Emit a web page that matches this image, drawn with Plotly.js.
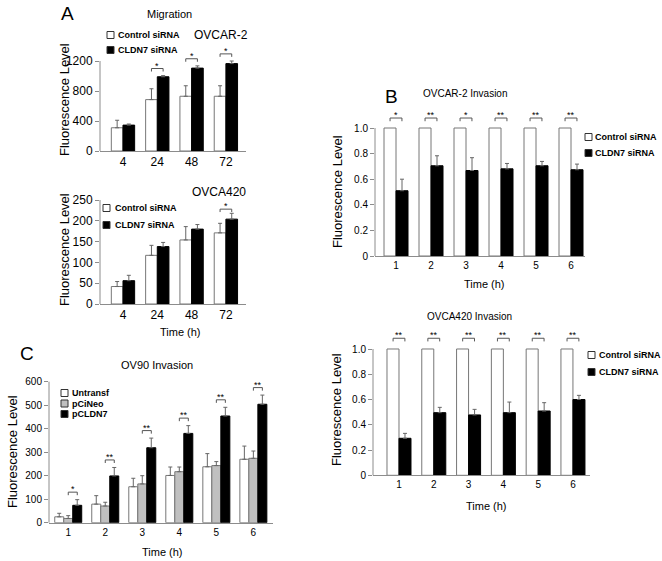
<!DOCTYPE html>
<html><head><meta charset="utf-8">
<script src="https://cdn.plot.ly/plotly-3.0.1.min.js"></script>
<style>html,body{margin:0;padding:0;background:#fff}#chart{width:662px;height:561px}</style>
</head><body><div id="chart"></div>
<script>
// ---------- Panel A : Migration ----------
const timesA = ['4', '24', '48', '72'];
const migOvcar2Ctl = [310, 685, 730, 730];
const migOvcar2CtlErr = [100, 145, 140, 140];
const migOvcar2Cldn7 = [345, 990, 1105, 1165];
const migOvcar2Cldn7Err = [15, 15, 30, 35];
const migOvcar2Sig = ['', '*', '*', '*'];

const migOvca420Ctl = [42, 117, 154, 171];
const migOvca420CtlErr = [12, 24, 32, 23];
const migOvca420Cldn7 = [56, 138, 180, 204];
const migOvca420Cldn7Err = [13, 10, 11, 14];
const migOvca420Sig = ['', '', '', '*'];

// ---------- Panel B : Invasion (siRNA) ----------
const timesB = ['1', '2', '3', '4', '5', '6'];
const invOvcar2Ctl = [1, 1, 1, 1, 1, 1];
const invOvcar2Cldn7 = [0.51, 0.705, 0.668, 0.681, 0.705, 0.674];
const invOvcar2Cldn7Err = [0.09, 0.078, 0.10, 0.042, 0.034, 0.044];
const invOvcar2Sig = ['*', '**', '*', '**', '**', '**'];

const invOvca420Ctl = [1, 1, 1, 1, 1, 1];
const invOvca420Cldn7 = [0.293, 0.496, 0.478, 0.496, 0.509, 0.60];
const invOvca420Cldn7Err = [0.039, 0.042, 0.044, 0.084, 0.066, 0.033];
const invOvca420Sig = ['**', '**', '**', '**', '**', '**'];

// ---------- Panel C : OV90 Invasion ----------
const timesC = ['1', '2', '3', '4', '5', '6'];
const ov90Untransf = [25, 79, 153, 201, 238, 270];
const ov90UntransfErr = [15, 36, 36, 36, 56, 56];
const ov90PCiNeo = [18, 71, 165, 217, 243, 274];
const ov90PCiNeoErr = [12, 16, 35, 20, 17, 31];
const ov90PCLDN7 = [74, 199, 319, 380, 454, 504];
const ov90PCLDN7Err = [24, 36, 41, 33, 37, 39];
const ov90Sig = ['*', '**', '**', '**', '**', '**'];

const seriesSi = ['Control siRNA', 'CLDN7 siRNA'];
const seriesC = ['Untransf', 'pCiNeo', 'pCLDN7'];

// ---------- helpers ----------
const W = 662, H = 561;
const px = x => x / W, py = y => 1 - y / H;
const FONT = 'Arial, "Liberation Sans", Helvetica, sans-serif';
const WHITE = '#ffffff', BLACK = '#000000', GREY = '#c0c0c0';
const AXIS = '#8c8c8c';
const traces = [], annotations = [], shapes = [];

function addBars(xa, ya, x0, vals, errs, fill, lineColor, offset, width, name) {
  const t = {
    type: 'bar', name: name, x: vals.map((_, i) => i + x0), y: vals, xaxis: xa, yaxis: ya,
    offset: offset, width: width, showlegend: false, hoverinfo: 'skip',
    marker: {color: fill, line: {color: lineColor, width: 1}}
  };
  if (errs) t.error_y = {type: 'data', symmetric: false, array: errs, arrayminus: errs.map(() => 0),
                         color: '#666', thickness: 1, width: 2};
  traces.push(t);
}
function tops(v, e) { return v.map((d, i) => d + (e ? e[i] : 0)); }
function addBrackets(xa, ya, x0, offL, offR, topL, topR, sig, gap, drop) {
  const xs = [], ys = [];
  sig.forEach((s, i) => {
    if (!s) return;
    const yb = Math.max(topL[i], topR[i]) + gap;
    const xl = i + x0 + offL, xr = i + x0 + offR;
    xs.push(xl, xl, xr, xr, null); ys.push(yb - drop, yb, yb, yb - drop, null);
    annotations.push({xref: xa, yref: ya, x: (xl + xr) / 2, y: yb, text: s, showarrow: false,
      xanchor: 'center', yanchor: 'middle', yshift: 3, font: {size: 9, family: FONT, color: '#000'}});
  });
  traces.push({type: 'scatter', mode: 'lines', x: xs, y: ys, xaxis: xa, yaxis: ya, cliponaxis: false,
    line: {color: '#555', width: 1}, showlegend: false, hoverinfo: 'skip'});
}
function label(text, x, y, size, extra) {
  annotations.push(Object.assign({xref: 'paper', yref: 'paper', x: px(x), y: py(y), text: text,
    showarrow: false, xanchor: 'center', yanchor: 'middle', font: {size: size, family: FONT, color: '#000'}}, extra || {}));
}
function legendBlock(names, fills, boxLeft, yFirst, step, textLeft) {
  const s = 7;
  names.forEach((n, i) => {
    const yc = yFirst + i * step;
    shapes.push({type: 'rect', xref: 'paper', yref: 'paper', x0: px(boxLeft), x1: px(boxLeft + s),
      y0: py(yc + s / 2), y1: py(yc - s / 2), fillcolor: fills[i], line: {color: '#333', width: 1}});
    label('<b>' + n + '</b>', textLeft, yc, 9, {xanchor: 'left', borderpad: 0});
  });
}
function xAxis(l, r, range, x0, labels, anchor, fs) {
  return {domain: [px(l), px(r)], range: range, anchor: anchor, tickvals: labels.map((_, i) => i + x0),
    ticktext: labels, showline: true, linecolor: AXIS, linewidth: 1, ticks: '', showgrid: false,
    zeroline: false, tickfont: {size: fs, family: FONT, color: '#000'}, fixedrange: true};
}
// y axis: bottom pixel, pixels per unit, last tick value (axis line stops there), headroom max of range
function yAxis(leftPx, bottom, ppu, vals, texts, rangeMax, anchor, fs) {
  const lineTop = bottom - vals[vals.length - 1] * ppu;
  // visible axis line stops at the top tick, like the original figure
  shapes.push({type: 'line', xref: 'paper', yref: 'paper', x0: px(leftPx), x1: px(leftPx),
    y0: py(bottom), y1: py(lineTop), line: {color: AXIS, width: 1}});
  return {domain: [py(bottom), py(bottom - rangeMax * ppu)], range: [0, rangeMax], anchor: anchor,
    tickvals: vals, ticktext: texts, showline: false, ticks: 'outside', ticklen: 4, tickcolor: AXIS,
    showgrid: false, zeroline: false, tickfont: {size: fs, family: FONT, color: '#000'}, fixedrange: true};
}

// ---------- Panel A top ----------
addBars('x', 'y', 0, migOvcar2Ctl, migOvcar2CtlErr, WHITE, '#777', -0.34, 0.34, seriesSi[0]);
addBars('x', 'y', 0, migOvcar2Cldn7, migOvcar2Cldn7Err, BLACK, BLACK, 0, 0.34, seriesSi[1]);
addBrackets('x', 'y', 0, -0.17, 0.17, tops(migOvcar2Ctl, migOvcar2CtlErr), tops(migOvcar2Cldn7, migOvcar2Cldn7Err), migOvcar2Sig, 95, 40);
// ---------- Panel A bottom ----------
addBars('x2', 'y2', 0, migOvca420Ctl, migOvca420CtlErr, WHITE, '#777', -0.34, 0.34, seriesSi[0]);
addBars('x2', 'y2', 0, migOvca420Cldn7, migOvca420Cldn7Err, BLACK, BLACK, 0, 0.34, seriesSi[1]);
addBrackets('x2', 'y2', 0, -0.17, 0.17, tops(migOvca420Ctl, migOvca420CtlErr), tops(migOvca420Cldn7, migOvca420Cldn7Err), migOvca420Sig, 10, 7);
// ---------- Panel B top ----------
addBars('x3', 'y3', 1, invOvcar2Ctl, null, WHITE, '#777', -0.343, 0.343, seriesSi[0]);
addBars('x3', 'y3', 1, invOvcar2Cldn7, invOvcar2Cldn7Err, BLACK, BLACK, 0, 0.343, seriesSi[1]);
addBrackets('x3', 'y3', 1, -0.17, 0.17, tops(invOvcar2Ctl), tops(invOvcar2Cldn7, invOvcar2Cldn7Err), invOvcar2Sig, 0.078, 0.025);
// ---------- Panel B bottom ----------
addBars('x4', 'y4', 1, invOvca420Ctl, null, WHITE, '#777', -0.345, 0.345, seriesSi[0]);
addBars('x4', 'y4', 1, invOvca420Cldn7, invOvca420Cldn7Err, BLACK, BLACK, 0, 0.345, seriesSi[1]);
addBrackets('x4', 'y4', 1, -0.17, 0.17, tops(invOvca420Ctl), tops(invOvca420Cldn7, invOvca420Cldn7Err), invOvca420Sig, 0.085, 0.025);
// ---------- Panel C ----------
addBars('x5', 'y5', 1, ov90Untransf, ov90UntransfErr, WHITE, '#777', -0.365, 0.243, seriesC[0]);
addBars('x5', 'y5', 1, ov90PCiNeo, ov90PCiNeoErr, GREY, '#777', -0.122, 0.243, seriesC[1]);
addBars('x5', 'y5', 1, ov90PCLDN7, ov90PCLDN7Err, BLACK, BLACK, 0.121, 0.243, seriesC[2]);
addBrackets('x5', 'y5', 1, 0, 0.243, tops(ov90PCiNeo, ov90PCiNeoErr), tops(ov90PCLDN7, ov90PCLDN7Err), ov90Sig, 32, 13);

// ---------- texts ----------
label('A', 67, 13, 19);
label('B', 391, 97, 19);
label('C', 27, 353, 19);
label('Migration', 169, 14, 11);
label('OVCAR-2', 221, 35, 12);
label('OVCA420', 219, 192, 12);
label('OVCAR-2 Invasion', 465, 93, 10);
label('OVCA420 Invasion', 469, 316, 10);
label('OV90 Invasion', 157, 365, 11);
const yt = {textangle: -90};
label('Fluorescence Level', 65, 100, 13, yt);
label('Fluorescence Level', 65, 250, 13, yt);
label('Fluorescence Level', 337, 192, 13, yt);
label('Fluorescence Level', 336, 410, 13, yt);
label('Fluorescence Level', 12, 452, 13, yt);
label('Time (h)', 180, 332, 11);
label('Time (h)', 484, 284, 11);
label('Time (h)', 486, 506, 11);
label('Time (h)', 162, 552, 11);

legendBlock(seriesSi, [WHITE, BLACK], 107, 35, 15, 117);
legendBlock(seriesSi, [WHITE, BLACK], 103, 208, 17, 114);
legendBlock(seriesSi, [WHITE, BLACK], 585, 137, 16, 594);
legendBlock(seriesSi, [WHITE, BLACK], 588, 355, 17, 598);
legendBlock(seriesC, [WHITE, GREY, BLACK], 61, 393, 10.5, 71);

const layout = {
  width: W, height: H, margin: {l: 0, r: 0, t: 0, b: 0}, paper_bgcolor: '#fff', plot_bgcolor: 'rgba(0,0,0,0)',
  barmode: 'overlay', showlegend: false, font: {family: FONT, color: '#000'},
  xaxis: xAxis(100, 246, [-0.67, 3.586], 0, timesA, 'y', 12),
  yaxis: yAxis(100, 151, 90 / 1200, [0, 400, 800, 1200], ['0', '400', '800', '1200'], 1420, 'x', 12),
  xaxis2: xAxis(100, 246, [-0.67, 3.586], 0, timesA, 'y2', 12),
  yaxis2: yAxis(100, 304, 104 / 250, [0, 50, 100, 150, 200, 250], ['0', '50', '100', '150', '200', '250'], 280, 'x2', 12),
  xaxis3: xAxis(375, 585, [0.4, 6.4], 1, timesB, 'y3', 10),
  yaxis3: yAxis(375, 256, 128, [0, 0.2, 0.4, 0.6, 0.8, 1], ['0', '0.2', '0.4', '0.6', '0.8', '1.0'], 1.2, 'x3', 10),
  xaxis4: xAxis(373, 590, [0.253, 6.49], 1, timesB, 'y4', 10),
  yaxis4: yAxis(373, 475.3, 126.3, [0, 0.2, 0.4, 0.6, 0.8, 1], ['0', '0.2', '0.4', '0.6', '0.8', '1.0'], 1.2, 'x4', 10),
  xaxis5: xAxis(49, 273, [0.48, 6.53], 1, timesC, 'y5', 10),
  yaxis5: yAxis(49, 522.7, 141 / 600, [0, 100, 200, 300, 400, 500, 600], ['0', '100', '200', '300', '400', '500', '600'], 650, 'x5', 10),
  annotations: annotations, shapes: shapes
};
Plotly.newPlot('chart', traces, layout, {staticPlot: true, displayModeBar: false});
</script>
</body></html>
